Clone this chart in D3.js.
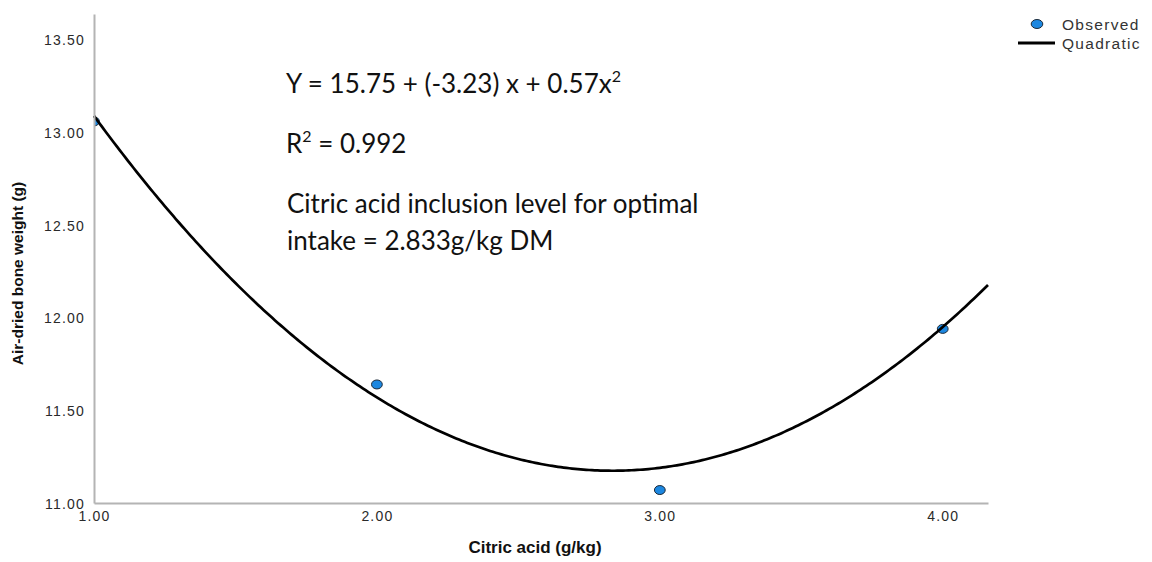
<!DOCTYPE html>
<html>
<head>
<meta charset="utf-8">
<script src="https://cdn.jsdelivr.net/npm/d3@7"></script>
<style>
  html, body { margin: 0; padding: 0; background: #fff; }
  svg { display: block; }
</style>
</head>
<body>
<svg id="chart" width="1152" height="562"></svg>
<script>
// Observed air-dried bone weight at each citric acid level
const citricLevels = [1, 2, 3, 4];
const boneWeight = [13.06, 11.64, 11.07, 11.94];

// Fitted quadratic: Y = b0 + b1*x + b2*x^2
const quadCoef = [15.75, -3.23, 0.57];

const yTicks = [11.0, 11.5, 12.0, 12.5, 13.0, 13.5];
const xTicks = [1, 2, 3, 4];

const xDomain = [1, 4.16];
const yDomain = [11, 13.64];

const svg = d3.select("#chart");

const x = d3.scaleLinear().domain(xDomain).range([94, 988]);
const y = d3.scaleLinear().domain(yDomain).range([503, 14]);

const tickFont = "Liberation Sans, Arial, sans-serif";
const pointFill = "#1c87e0";
const pointStroke = "#1d2a38";

// plot-area clip so markers sitting on the axis are cut at the axis line
svg.append("defs").append("clipPath").attr("id", "plotClip")
  .append("rect")
  .attr("x", x.range()[0]).attr("y", 0)
  .attr("width", x.range()[1] - x.range()[0] + 10)
  .attr("height", y.range()[0]);

// observed points
svg.append("g").attr("clip-path", "url(#plotClip)")
  .selectAll("ellipse")
  .data(citricLevels.map((c, i) => ({ c, v: boneWeight[i] })))
  .join("ellipse")
  .attr("cx", d => x(d.c))
  .attr("cy", d => y(d.v))
  .attr("rx", 5.4)
  .attr("ry", 4.5)
  .attr("fill", pointFill)
  .attr("stroke", pointStroke)
  .attr("stroke-width", 1);

// quadratic fit curve
const fit = xv => quadCoef[0] + quadCoef[1] * xv + quadCoef[2] * xv * xv;
const curveX = d3.range(xDomain[0], xDomain[1] + 0.0001, 0.01);
svg.append("path")
  .datum(curveX)
  .attr("fill", "none")
  .attr("stroke", "#000")
  .attr("stroke-width", 2.7)
  .attr("d", d3.line().x(d => x(d)).y(d => y(fit(d))));

// axes
const yAxis = svg.append("g")
  .attr("transform", `translate(${x.range()[0]},0)`)
  .call(d3.axisLeft(y).tickValues(yTicks).tickFormat(d3.format(".2f"))
    .tickSize(0).tickPadding(9));
const xAxis = svg.append("g")
  .attr("transform", `translate(0,${y.range()[0]})`)
  .call(d3.axisBottom(x).tickValues(xTicks).tickFormat(d3.format(".2f"))
    .tickSize(0).tickPadding(8));

[yAxis, xAxis].forEach(g => {
  g.select(".domain").attr("stroke", "#b4b4b4").attr("stroke-width", 2);
  g.selectAll("text")
    .attr("font-family", tickFont)
    .attr("font-size", 14)
    .attr("letter-spacing", 1.2)
    .attr("fill", "#2a2a2a");
});
yAxis.selectAll(".tick text").attr("dy", "0.36em");

// axis titles
svg.append("text")
  .attr("transform", `translate(23,${(y.range()[0] + y.range()[1]) / 2 + 15}) rotate(-90)`)
  .attr("text-anchor", "middle")
  .attr("font-family", "Liberation Sans Narrow, Arial Narrow, sans-serif")
  .attr("font-weight", "bold")
  .attr("font-size", 15.5)
  .attr("fill", "#111")
  .text("Air-dried bone weight (g)");

svg.append("text")
  .attr("x", (x.range()[0] + x.range()[1]) / 2 - 6)
  .attr("y", 553)
  .attr("text-anchor", "middle")
  .attr("font-family", tickFont)
  .attr("font-weight", "bold")
  .attr("font-size", 17)
  .attr("fill", "#111")
  .text("Citric acid (g/kg)");

// legend
const legend = svg.append("g")
  .attr("font-family", tickFont)
  .attr("font-size", 15.5)
  .attr("letter-spacing", 1.3)
  .attr("fill", "#333");
legend.append("ellipse").attr("cx", 1037).attr("cy", 24).attr("rx", 5.8).attr("ry", 4.5)
  .attr("fill", pointFill).attr("stroke", pointStroke).attr("stroke-width", 1);
legend.append("text").attr("x", 1062).attr("y", 30).text("Observed");
legend.append("line").attr("x1", 1018).attr("x2", 1055).attr("y1", 43).attr("y2", 43)
  .attr("stroke", "#000").attr("stroke-width", 3);
legend.append("text").attr("x", 1062).attr("y", 49).text("Quadratic");

// annotation text
const note = svg.append("g")
  .attr("font-family", "Lato, Carlito, Calibri, sans-serif")
  .attr("font-size", 26)
  .attr("fill", "#111");

const eq = note.append("text").attr("x", 286).attr("y", 93);
eq.append("tspan").text(`Y = ${quadCoef[0]} + (${quadCoef[1]}) x + ${quadCoef[2]}x`);
eq.append("tspan").attr("font-size", 16).attr("dy", -11).text("2");

const r2 = note.append("text").attr("x", 286).attr("y", 153);
r2.append("tspan").text("R");
r2.append("tspan").attr("font-size", 16).attr("dy", -11).text("2");
r2.append("tspan").attr("dy", 11).text(" = 0.992");

note.append("text").attr("x", 287).attr("y", 213).text("Citric acid inclusion level for optimal");
note.append("text").attr("x", 287).attr("y", 250).text("intake = 2.833g/kg DM");
</script>
</body>
</html>
